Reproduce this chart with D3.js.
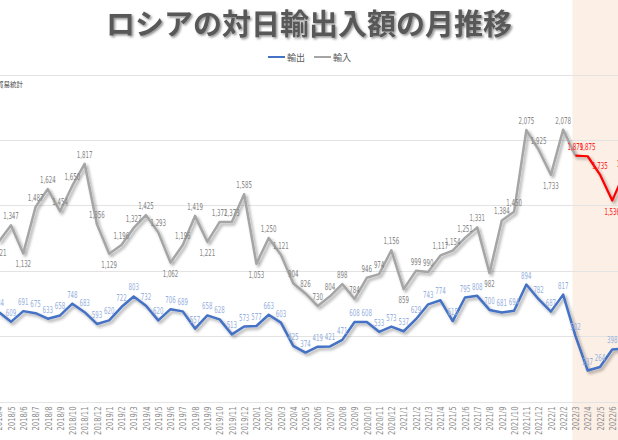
<!DOCTYPE html>
<html lang="ja">
<head>
<meta charset="UTF-8">
<title>ロシアの対日輸出入額の月推移</title>
<style>
    body { margin: 0; background: #fff; }
    svg { display: block; }
</style>
</head>
<body>
<svg id="svg" width="618" height="440"></svg>

<script src="https://d3js.org/d3.v7.min.js"></script>
<script>
    // months shown on the axis (the chart is cropped at both sides)
    const months = [
        '2018/4', '2018/5', '2018/6', '2018/7', '2018/8', '2018/9', '2018/10', '2018/11', '2018/12',
        '2019/1', '2019/2', '2019/3', '2019/4', '2019/5', '2019/6', '2019/7', '2019/8', '2019/9', '2019/10', '2019/11', '2019/12',
        '2020/1', '2020/2', '2020/3', '2020/4', '2020/5', '2020/6', '2020/7', '2020/8', '2020/9', '2020/10', '2020/11', '2020/12',
        '2021/1', '2021/2', '2021/3', '2021/4', '2021/5', '2021/6', '2021/7', '2021/8', '2021/9', '2021/10', '2021/11', '2021/12',
        '2022/1', '2022/2', '2022/3', '2022/4', '2022/5', '2022/6', '2022/7'
    ]

    // 輸出 (億円)
    const exports = [
        684, 609, 691, 675, 633, 658, 748, 683, 593,
        620, 722, 803, 732, 620, 706, 689, 557, 658, 628, 513, 573,
        577, 663, 603, 425, 374, 419, 421, 471, 608, 608, 533, 573,
        537, 629, 743, 774, 615, 795, 808, 700, 681, 694, 894, 782,
        687, 817, 502, 237, 264, 398, 405
    ]

    // 輸入 (億円)
    const imports = [
        1221, 1347, 1132, 1487, 1624, 1454, 1650, 1817, 1356,
        1129, 1196, 1327, 1425, 1293, 1062, 1196, 1419, 1221, 1372, 1373, 1585,
        1053, 1250, 1121, 904, 826, 730, 804, 898, 784, 946, 974, 1156,
        859, 999, 990, 1117, 1154, 1251, 1331, 982, 1384, 1450, 2075, 1925,
        1733, 2078, 1879, 1875, 1735, 1536, 1750
    ]

    const yTicks = [0, 500, 1000, 1500, 2000, 2500]

    // highlighted period (after the invasion)
    const highlightFrom = '2022/3'
    // import labels placed under the line
    const importsBelow = ['2018/4', '2018/6', '2019/1', '2019/6', '2019/9', '2020/1', '2021/1', '2021/8', '2022/1', '2022/6']

    const W = 618, H = 440
    const svg = d3.select('#svg')

    const step = 12.27
    const x0 = -1.27
    const xScale = d3.scalePoint()
        .domain(months)
        .range([x0, x0 + step * (months.length - 1)])

    const yScale = d3.scaleLinear()
        .domain([0, 2500])
        .range([401.5, 74.5])

    const fmt = d3.format(',')

    // drop shadows
    const defs = svg.append('defs')
    defs.append('filter').attr('id', 'shadow')
        .attr('x', '-10%').attr('y', '-10%').attr('width', '130%').attr('height', '130%')
        .append('feDropShadow')
        .attr('dx', 2).attr('dy', 2.2).attr('stdDeviation', 1.5)
        .attr('flood-color', '#000').attr('flood-opacity', 0.35)
    defs.append('filter').attr('id', 'tshadow')
        .append('feDropShadow')
        .attr('dx', 1.5).attr('dy', 1.5).attr('stdDeviation', 1.2)
        .attr('flood-color', '#000').attr('flood-opacity', 0.45)

    defs.append('clipPath').attr('id', 'clip')
        .append('rect').attr('x', 0).attr('y', 0).attr('width', W).attr('height', H)

    // shaded band
    svg.append('rect')
        .attr('x', xScale(highlightFrom) - 3)
        .attr('y', 0)
        .attr('width', W - xScale(highlightFrom) + 3)
        .attr('height', H)
        .attr('fill', '#fcefe6')

    // title
    svg.append('text')
        .text('ロシアの対日輸出入額の月推移')
        .attr('x', 309)
        .attr('y', 35)
        .attr('text-anchor', 'middle')
        .style('font-family', '"Noto Sans CJK JP", sans-serif')
        .style('font-size', '29px')
        .style('font-weight', 'bold')
        .attr('fill', '#595959')
        .attr('filter', 'url(#tshadow)')

    // legend
    const legend = svg.append('g')
        .style('font-family', '"Noto Sans CJK JP", sans-serif')
        .style('font-size', '9px')
    const legendItems = [
        { name: '輸出', color: '#4472c4', x: 268 },
        { name: '輸入', color: '#a5a5a5', x: 314 }
    ]
    legendItems.forEach(d => {
        legend.append('line')
            .attr('x1', d.x).attr('x2', d.x + 17)
            .attr('y1', 57).attr('y2', 57)
            .attr('stroke', d.color).attr('stroke-width', 2)
        legend.append('text')
            .text(d.name)
            .attr('x', d.x + 19).attr('y', 60.5)
            .attr('fill', '#595959')
    })

    // gridlines
    svg.append('g')
        .selectAll('line')
        .data(yTicks)
        .enter()
        .append('line')
        .attr('x1', 0).attr('x2', W)
        .attr('y1', d => Math.round(yScale(d)) + 0.5)
        .attr('y2', d => Math.round(yScale(d)) + 0.5)
        .attr('stroke', '#e3e3e3')
        .attr('stroke-width', 1)

    // source note (cut off on the left)
    svg.append('text')
        .text('出典：財務省貿易統計')
        .attr('x', 23)
        .attr('y', 87)
        .attr('text-anchor', 'end')
        .style('font-family', '"Noto Sans CJK JP", sans-serif')
        .style('font-size', '6.5px')
        .attr('fill', '#404040')

    const labelFont = '"Liberation Sans Narrow", "DejaVu Sans Condensed", sans-serif'

    // x axis
    const xAxis = svg.append('g')
        .attr('transform', `translate(0, ${yScale(0)})`)
        .call(d3.axisBottom(xScale).tickSize(0))
    xAxis.select('.domain').remove()
    xAxis.selectAll('text')
        .attr('x', 0)
        .attr('y', 0)
        .attr('dy', null)
        .attr('text-anchor', 'end')
        .attr('transform', 'translate(3.2, 5) rotate(-90) scale(0.8, 1)')
        .style('font-family', labelFont)
        .style('font-size', '9.5px')
        .attr('fill', '#8a8a8a')

    const plot = svg.append('g').attr('clip-path', 'url(#clip)')

    const line = d3.line()
        .x(d => xScale(d.month))
        .y(d => yScale(d.value))

    const exportData = months.map((m, i) => ({ month: m, value: exports[i] }))
    const importData = months.map((m, i) => ({ month: m, value: imports[i] }))
    const cut = months.indexOf(highlightFrom)

    plot.append('path')
        .attr('d', line(importData.slice(0, cut + 1)))
        .attr('fill', 'none')
        .attr('stroke', '#a5a5a5')
        .attr('stroke-width', 2.5)
        .attr('stroke-linejoin', 'round')
        .attr('filter', 'url(#shadow)')

    plot.append('path')
        .attr('d', line(importData.slice(cut)))
        .attr('fill', 'none')
        .attr('stroke', '#ff0000')
        .attr('stroke-width', 2.25)
        .attr('stroke-linejoin', 'round')
        .attr('filter', 'url(#shadow)')

    plot.append('path')
        .attr('d', line(exportData))
        .attr('fill', 'none')
        .attr('stroke', '#4472c4')
        .attr('stroke-width', 2.5)
        .attr('stroke-linejoin', 'round')
        .attr('filter', 'url(#shadow)')

    // data labels
    plot.append('g')
        .selectAll('text')
        .data(exportData)
        .enter()
        .append('text')
        .text(d => fmt(d.value))
        .attr('text-anchor', 'middle')
        .attr('transform', d => `translate(${xScale(d.month)}, ${yScale(d.value) - 6}) scale(0.64, 1)`)
        .style('font-family', labelFont)
        .style('font-size', '9.5px')
        .attr('fill', '#97b0de')

    plot.append('g')
        .selectAll('text')
        .data(importData)
        .enter()
        .append('text')
        .text(d => fmt(d.value))
        .attr('text-anchor', 'middle')
        .attr('transform', d => {
            const dy = importsBelow.includes(d.month) ? 14 : -6
            return `translate(${xScale(d.month)}, ${yScale(d.value) + dy}) scale(0.64, 1)`
        })
        .style('font-family', labelFont)
        .style('font-size', '9.5px')
        .attr('fill', (d, i) => i >= cut ? '#ff2020' : '#858585')
</script>
</body>
</html>
